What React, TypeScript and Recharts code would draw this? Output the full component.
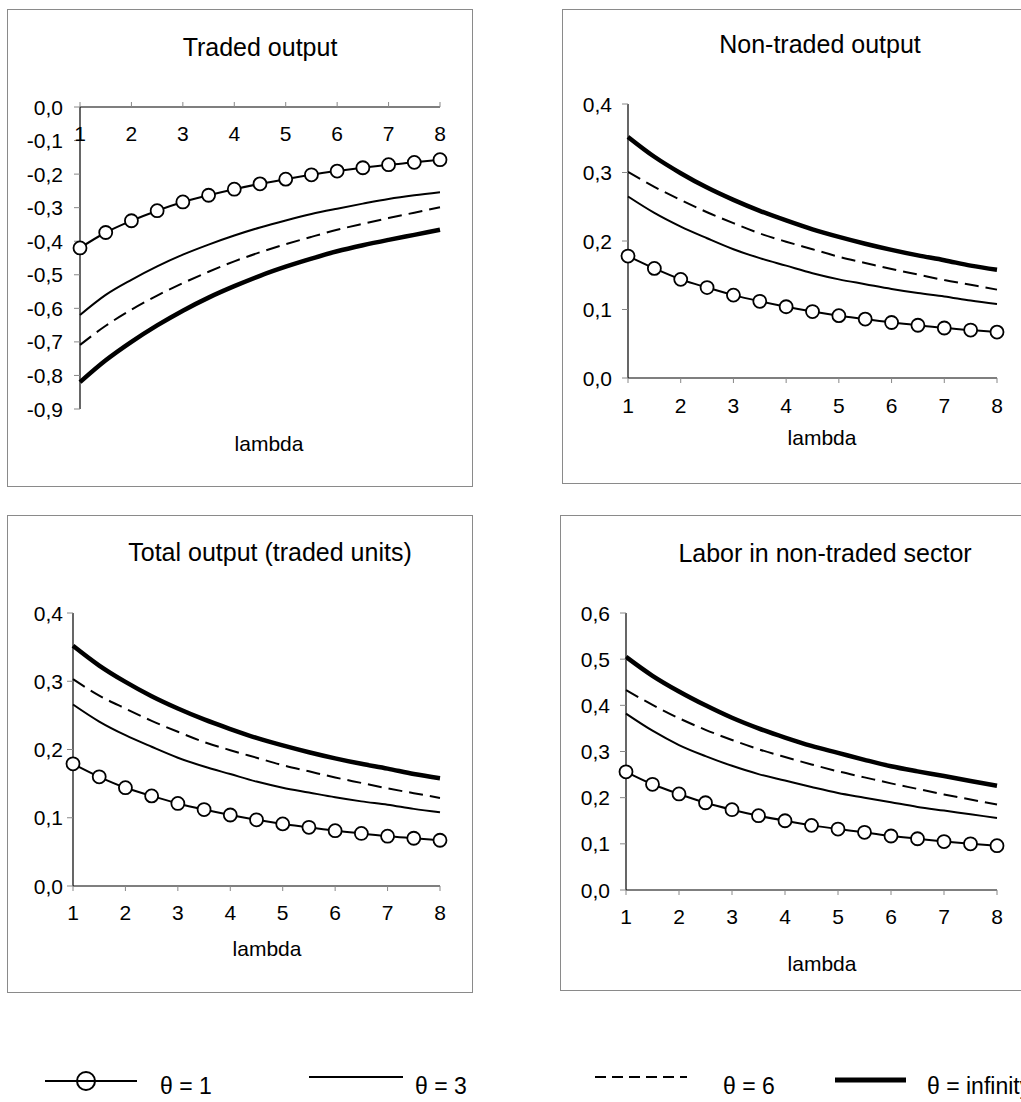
import { LineChart, Line, XAxis, YAxis } from "recharts";

// lambda grid (markers every 0.5)
const lambdaValues = [1, 1.5, 2, 2.5, 3, 3.5, 4, 4.5, 5, 5.5, 6, 6.5, 7, 7.5, 8];
const lambdaTicks = [1, 2, 3, 4, 5, 6, 7, 8];

// Traded output
const tradedTheta1 = [-0.42, -0.374, -0.339, -0.309, -0.283, -0.263, -0.245, -0.229, -0.215, -0.202, -0.191, -0.181, -0.172, -0.165, -0.157];
const tradedTheta3 = [-0.62, -0.56, -0.515, -0.475, -0.44, -0.41, -0.383, -0.359, -0.338, -0.319, -0.303, -0.288, -0.274, -0.263, -0.254];
const tradedTheta6 = [-0.709, -0.652, -0.604, -0.562, -0.525, -0.491, -0.46, -0.433, -0.409, -0.387, -0.366, -0.348, -0.331, -0.315, -0.299];
const tradedThetaInf = [-0.82, -0.755, -0.7, -0.651, -0.607, -0.568, -0.534, -0.503, -0.476, -0.452, -0.43, -0.412, -0.396, -0.381, -0.366];

// Non-traded output
const nonTradedTheta1 = [0.178, 0.16, 0.144, 0.132, 0.121, 0.112, 0.104, 0.097, 0.091, 0.086, 0.081, 0.077, 0.073, 0.07, 0.067];
const nonTradedTheta3 = [0.265, 0.241, 0.221, 0.204, 0.188, 0.175, 0.164, 0.153, 0.144, 0.137, 0.13, 0.124, 0.119, 0.113, 0.108];
const nonTradedTheta6 = [0.301, 0.279, 0.26, 0.242, 0.226, 0.211, 0.199, 0.188, 0.177, 0.168, 0.159, 0.151, 0.143, 0.136, 0.129];
const nonTradedThetaInf = [0.352, 0.323, 0.299, 0.278, 0.26, 0.244, 0.23, 0.217, 0.206, 0.196, 0.187, 0.179, 0.172, 0.164, 0.158];

// Total output (traded units)
const totalTheta1 = [0.179, 0.16, 0.144, 0.132, 0.121, 0.112, 0.104, 0.097, 0.091, 0.086, 0.081, 0.077, 0.073, 0.07, 0.067];
const totalTheta3 = [0.266, 0.241, 0.221, 0.204, 0.188, 0.175, 0.164, 0.153, 0.144, 0.137, 0.13, 0.124, 0.119, 0.113, 0.108];
const totalTheta6 = [0.303, 0.279, 0.26, 0.242, 0.226, 0.211, 0.199, 0.188, 0.177, 0.168, 0.159, 0.151, 0.143, 0.136, 0.129];
const totalThetaInf = [0.352, 0.323, 0.299, 0.278, 0.26, 0.244, 0.23, 0.217, 0.206, 0.196, 0.187, 0.179, 0.172, 0.164, 0.158];

// Labor in non-traded sector
const laborTheta1 = [0.256, 0.229, 0.208, 0.189, 0.174, 0.161, 0.15, 0.14, 0.132, 0.125, 0.117, 0.111, 0.105, 0.1, 0.096];
const laborTheta3 = [0.382, 0.345, 0.314, 0.29, 0.269, 0.251, 0.237, 0.223, 0.21, 0.2, 0.19, 0.18, 0.172, 0.164, 0.156];
const laborTheta6 = [0.433, 0.401, 0.372, 0.347, 0.325, 0.305, 0.288, 0.272, 0.257, 0.244, 0.231, 0.219, 0.207, 0.196, 0.185];
const laborThetaInf = [0.505, 0.464, 0.43, 0.4, 0.373, 0.35, 0.33, 0.312, 0.297, 0.282, 0.268, 0.257, 0.247, 0.236, 0.226];

const tradedTicks = [0, -0.1, -0.2, -0.3, -0.4, -0.5, -0.6, -0.7, -0.8, -0.9];
const outputTicks = [0, 0.1, 0.2, 0.3, 0.4];
const laborTicks = [0, 0.1, 0.2, 0.3, 0.4, 0.5, 0.6];

const legendLabels = ["θ = 1", "θ = 3", "θ = 6", "θ = infinity"];

interface Row {
  lambda: number;
  t1: number;
  t3: number;
  t6: number;
  tInf: number;
}

function buildRows(t1: number[], t3: number[], t6: number[], tInf: number[]): Row[] {
  return lambdaValues.map((l, i) => ({ lambda: l, t1: t1[i], t3: t3[i], t6: t6[i], tInf: tInf[i] }));
}

const FONT = "'Liberation Sans', Arial, Helvetica, sans-serif";
const TICK_FONT = 21;
const Y_AXIS_W = 70;
const X_AXIS_H = 34;

const formatComma = (v: number) => v.toFixed(1).replace(".", ",");

interface Box {
  left: number;
  top: number;
  right: number;
  bottom: number;
}

interface PanelProps {
  title: string;
  rows: Row[];
  yDomain: [number, number];
  yTicks: number[];
  box: Box;
  plot: Box;
  titleAt: [number, number];
  lambdaAt: [number, number];
  axisOnTop?: boolean;
  xLabelY: number;
  yLabelRight: number;
}

function Panel({
  title,
  rows,
  yDomain,
  yTicks,
  box,
  plot,
  titleAt,
  lambdaAt,
  axisOnTop,
  xLabelY,
  yLabelRight,
}: PanelProps) {
  const width = box.right - box.left;
  const height = box.bottom - box.top;
  const margin = axisOnTop
    ? {
        left: plot.left - box.left - Y_AXIS_W,
        right: box.right - plot.right,
        top: plot.top - box.top - X_AXIS_H,
        bottom: box.bottom - plot.bottom,
      }
    : {
        left: plot.left - box.left - Y_AXIS_W,
        right: box.right - plot.right,
        top: plot.top - box.top,
        bottom: box.bottom - plot.bottom - X_AXIS_H,
      };

  // tick labels placed at fixed rows/columns (x labels stay below the line
  // even when the axis sits at y = 0 on top)
  const xTick = (p: any) => (
    <text
      x={p.x}
      y={xLabelY - box.top}
      textAnchor="middle"
      dominantBaseline="central"
      fontSize={TICK_FONT}
      fill="#000"
    >
      {p.payload.value}
    </text>
  );
  const yTick = (p: any) => (
    <text
      x={yLabelRight - box.left}
      y={p.y}
      textAnchor="end"
      dominantBaseline="central"
      fontSize={TICK_FONT}
      fill="#000"
    >
      {formatComma(p.payload.value)}
    </text>
  );

  return (
    <>
      <div
        style={{
          position: "absolute",
          left: box.left,
          top: box.top,
          width: width + 1,
          height: height + 1,
          border: "1px solid #8a8a8a",
          boxSizing: "border-box",
        }}
      />
      <div style={{ position: "absolute", left: box.left, top: box.top }}>
        <LineChart width={width} height={height} data={rows} margin={margin}>
          <XAxis
            dataKey="lambda"
            type="number"
            domain={[1, 8]}
            ticks={lambdaTicks}
            interval={0}
            orientation={axisOnTop ? "top" : "bottom"}
            height={X_AXIS_H}
            axisLine={{ stroke: "#000", strokeWidth: 1.2 }}
            tickLine={{ stroke: "#888" }}
            tickSize={5}
            tick={xTick}
          />
          <YAxis
            type="number"
            domain={yDomain}
            ticks={yTicks}
            interval={0}
            width={Y_AXIS_W}
            axisLine={{ stroke: "#000", strokeWidth: 1.2 }}
            tickLine={{ stroke: "#888" }}
            tickSize={6}
            tick={yTick}
          />
          <Line
            type="monotone"
            dataKey="tInf"
            stroke="#000"
            strokeWidth={4.5}
            dot={false}
            activeDot={false}
            isAnimationActive={false}
          />
          <Line
            type="monotone"
            dataKey="t6"
            stroke="#000"
            strokeWidth={2}
            strokeDasharray="14 7"
            dot={false}
            activeDot={false}
            isAnimationActive={false}
          />
          <Line
            type="monotone"
            dataKey="t3"
            stroke="#000"
            strokeWidth={2}
            dot={false}
            activeDot={false}
            isAnimationActive={false}
          />
          <Line
            type="monotone"
            dataKey="t1"
            stroke="#000"
            strokeWidth={2}
            dot={{ r: 6.5, fill: "#fff", stroke: "#000", strokeWidth: 1.8 }}
            activeDot={false}
            isAnimationActive={false}
          />
        </LineChart>
      </div>
      <div
        style={{
          position: "absolute",
          left: titleAt[0],
          top: titleAt[1],
          transform: "translate(-50%, -50%)",
          fontSize: 25,
          lineHeight: 1,
          whiteSpace: "nowrap",
        }}
      >
        {title}
      </div>
      <div
        style={{
          position: "absolute",
          left: lambdaAt[0],
          top: lambdaAt[1],
          transform: "translate(-50%, -50%)",
          fontSize: 21,
          lineHeight: 1,
          whiteSpace: "nowrap",
        }}
      >
        lambda
      </div>
    </>
  );
}

function SharedLegend() {
  return (
    <svg
      width={1021}
      height={60}
      style={{ position: "absolute", left: 0, top: 1050 }}
      fontFamily={FONT}
    >
      <line x1={45} y1={31} x2={137} y2={31} stroke="#000" strokeWidth={2} />
      <circle cx={86} cy={31} r={9} fill="none" stroke="#000" strokeWidth={2} />
      <text x={160} y={36} fontSize={23} dominantBaseline="central">{legendLabels[0]}</text>

      <line x1={309} y1={27} x2={403} y2={27} stroke="#000" strokeWidth={2} />
      <text x={415} y={36} fontSize={23} dominantBaseline="central">{legendLabels[1]}</text>

      <line x1={595} y1={27} x2={687} y2={27} stroke="#000" strokeWidth={2} strokeDasharray="11 6" />
      <text x={723} y={36} fontSize={23} dominantBaseline="central">{legendLabels[2]}</text>

      <line x1={835} y1={30} x2={906} y2={30} stroke="#000" strokeWidth={5} />
      <text x={927} y={36} fontSize={23} dominantBaseline="central">{legendLabels[3]}</text>
    </svg>
  );
}

export default function App() {
  const tradedRows = buildRows(tradedTheta1, tradedTheta3, tradedTheta6, tradedThetaInf);
  const nonTradedRows = buildRows(nonTradedTheta1, nonTradedTheta3, nonTradedTheta6, nonTradedThetaInf);
  const totalRows = buildRows(totalTheta1, totalTheta3, totalTheta6, totalThetaInf);
  const laborRows = buildRows(laborTheta1, laborTheta3, laborTheta6, laborThetaInf);

  return (
    <div
      style={{
        position: "absolute",
        left: 0,
        top: 0,
        width: 1021,
        height: 1102,
        overflow: "hidden",
        background: "#fff",
        fontFamily: FONT,
        color: "#000",
      }}
    >
      <Panel
        title="Traded output"
        rows={tradedRows}
        yDomain={[-0.9, 0]}
        yTicks={tradedTicks}
        box={{ left: 7, top: 9, right: 472, bottom: 486 }}
        plot={{ left: 80, top: 107, right: 440, bottom: 409 }}
        titleAt={[260, 47]}
        lambdaAt={[269, 443]}
        axisOnTop
        xLabelY={133}
        yLabelRight={63}
      />
      <Panel
        title="Non-traded output"
        rows={nonTradedRows}
        yDomain={[0, 0.4]}
        yTicks={outputTicks}
        box={{ left: 562, top: 9, right: 1025, bottom: 483 }}
        plot={{ left: 628, top: 104, right: 997, bottom: 378 }}
        titleAt={[820, 44]}
        lambdaAt={[822, 437]}
        xLabelY={405}
        yLabelRight={612}
      />
      <Panel
        title="Total output (traded units)"
        rows={totalRows}
        yDomain={[0, 0.4]}
        yTicks={outputTicks}
        box={{ left: 7, top: 515, right: 472, bottom: 992 }}
        plot={{ left: 73, top: 613, right: 440, bottom: 886 }}
        titleAt={[270, 552]}
        lambdaAt={[267, 948]}
        xLabelY={912}
        yLabelRight={63}
      />
      <Panel
        title="Labor in non-traded sector"
        rows={laborRows}
        yDomain={[0, 0.6]}
        yTicks={laborTicks}
        box={{ left: 560, top: 515, right: 1025, bottom: 990 }}
        plot={{ left: 626, top: 613, right: 997, bottom: 890 }}
        titleAt={[825, 553]}
        lambdaAt={[822, 963]}
        xLabelY={916}
        yLabelRight={610}
      />
      <SharedLegend />
    </div>
  );
}
